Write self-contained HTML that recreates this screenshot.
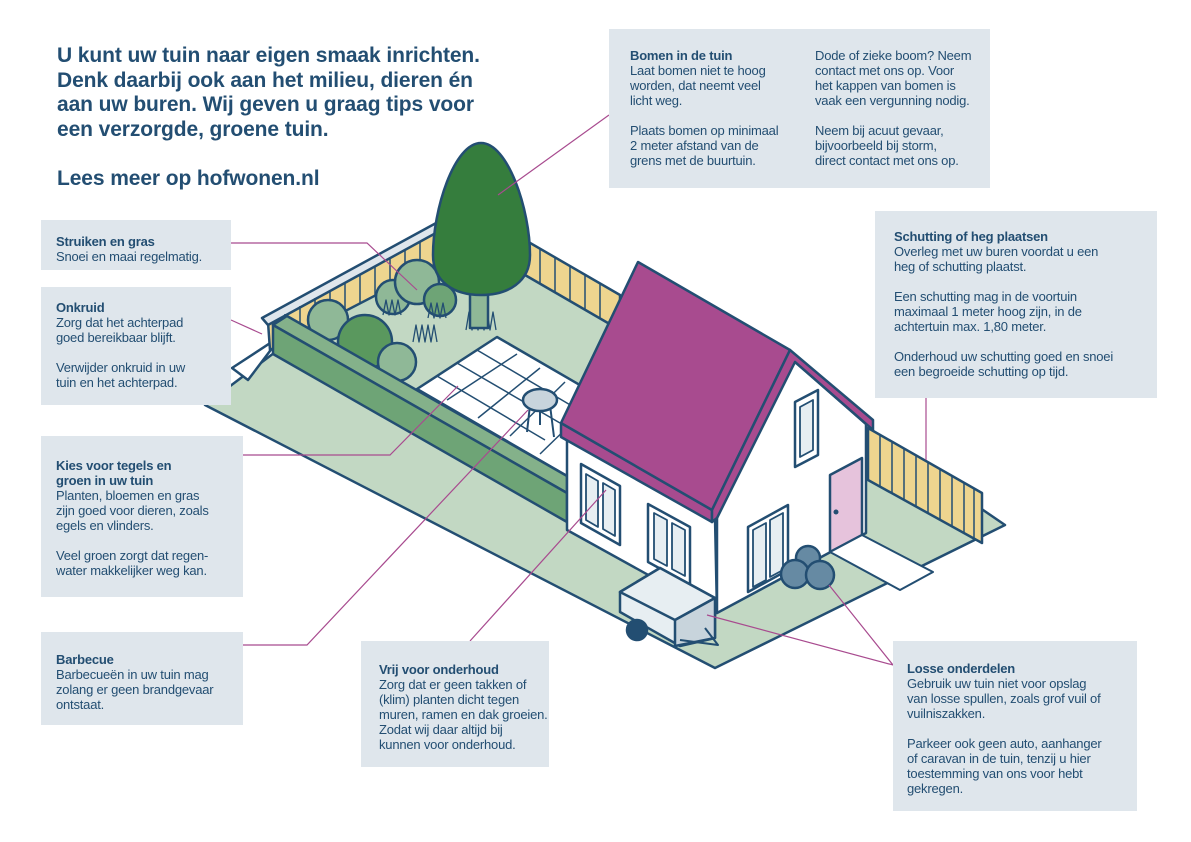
<!DOCTYPE html>
<html><head><meta charset="utf-8"><style>
body{margin:0;width:1191px;height:842px;background:#fff;position:relative;overflow:hidden;font-family:"Liberation Sans",sans-serif;color:#234e72}
svg{position:absolute;left:0;top:0}
.b{position:absolute;background:#dfe6ec;font-size:13px;line-height:15px;letter-spacing:-0.2px;box-sizing:border-box;white-space:nowrap}
.b b{font-weight:bold}
.t{position:absolute;left:57px;top:44px;font-size:21px;font-weight:bold;line-height:24.6px;letter-spacing:-0.1px;color:#234e72;white-space:nowrap}
</style></head><body>
<svg width="1191" height="842" viewBox="0 0 1191 842">
<g stroke="#234e72" stroke-width="2.5" stroke-linejoin="round">
<polygon points="205,405 440,228 620,298 866,430 1005,525 715,668" fill="#c2d8c3"/>
<polygon points="232,368 440,232 446,240 273,347 248,380" fill="#fff"/>
<polygon points="268,322 440,228 440,262 270,350" fill="#eed58f"/>
<polygon points="262,318 438,222 445,228 268,325" fill="#dfe6ec"/>
<g stroke-width="1.5">
<line x1="285" y1="314" x2="285" y2="343"/><line x1="300" y1="306" x2="300" y2="335"/><line x1="315" y1="298" x2="315" y2="327"/><line x1="330" y1="290" x2="330" y2="319"/><line x1="345" y1="282" x2="345" y2="311"/><line x1="360" y1="274" x2="360" y2="303"/><line x1="375" y1="266" x2="375" y2="295"/><line x1="390" y1="258" x2="390" y2="287"/><line x1="405" y1="250" x2="405" y2="279"/><line x1="420" y1="242" x2="420" y2="271"/>
</g>
<polygon points="525,240 620,295 620,330 525,275" fill="#eed58f"/>
<g stroke-width="1.5">
<line x1="540" y1="249" x2="540" y2="284"/><line x1="555" y1="258" x2="555" y2="293"/><line x1="570" y1="266" x2="570" y2="301"/><line x1="585" y1="275" x2="585" y2="310"/><line x1="600" y1="284" x2="600" y2="319"/>
</g>
<polygon points="417,389 497,337 585,388 567,476" fill="#fff"/>
<g stroke-width="1.5">
<line x1="437" y1="376" x2="545" y2="440"/><line x1="457" y1="363" x2="560" y2="423"/><line x1="477" y1="350" x2="572" y2="406"/>
<line x1="447" y1="400" x2="517" y2="354"/><line x1="478" y1="418" x2="540" y2="368"/><line x1="510" y1="436" x2="565" y2="382"/><line x1="540" y1="454" x2="575" y2="420"/>
</g>
<circle cx="328" cy="320" r="20" fill="#8fb897"/>
<circle cx="365" cy="342" r="27" fill="#5a985e"/>
<circle cx="397" cy="362" r="19" fill="#8fb897"/>
<circle cx="393" cy="297" r="17" fill="#8fb897"/>
<circle cx="417" cy="282" r="22" fill="#8fb897"/>
<circle cx="440" cy="300" r="16" fill="#6ea476"/>
<g stroke-width="1.3" fill="none">
<polyline points="383,315 386,300 389,315 392,300 395,315 398,300 401,315"/>
<polyline points="428,318 431,303 434,318 437,303 440,318 443,303 446,318"/>
<polyline points="413,342 416,325 419,342 422,325 425,342 428,325 431,342 434,325 437,342"/>
<polyline points="466,330 469,312 472,330 475,312 478,330 481,312 484,330 487,312 490,330 493,312 496,330"/>
</g>
<rect x="470" y="290" width="18" height="38" fill="#8fb897"/>
<path d="M481,143 C508,143 530,210 530,255 C530,282 508,295 481,295 C454,295 433,282 433,255 C433,210 454,143 481,143Z" fill="#357d3d"/>
<polygon points="273,325 287,316 567,476 567,493" fill="#84b18a"/>
<polygon points="273,325 567,493 567,522 273,354" fill="#6ea476"/>
<g stroke-width="2"><line x1="530" y1="405" x2="527" y2="432"/><line x1="550" y1="405" x2="554" y2="437"/><line x1="540" y1="408" x2="540" y2="425"/></g>
<ellipse cx="540" cy="400" rx="17" ry="11" fill="#c8d4dc"/>
<polygon points="567,437 715,518 717,613 567,530" fill="#fff"/>
<polygon points="717,518 793,360 866,424 866,533 717,613" fill="#fff"/>
<polygon points="581,464 620,486 620,545 581,523" fill="#fff"/>
<polygon points="586,474 598,481 598,527 586,520" fill="#e7eef2" stroke-width="1.8"/>
<polygon points="603,483 615,490 615,536 603,529" fill="#e7eef2" stroke-width="1.8"/>
<polygon points="648,504 690,527 690,585 648,562" fill="#fff"/>
<polygon points="654,513 667,520 667,566 654,559" fill="#e7eef2" stroke-width="1.8"/>
<polygon points="672,523 685,530 685,576 672,569" fill="#e7eef2" stroke-width="1.8"/>
<polygon points="795,402 818,390 818,455 795,467" fill="#fff"/>
<polygon points="800,407 813,400 813,450 800,457" fill="#e7eef2" stroke-width="1.8"/>
<polygon points="748,527 788,505 788,570 748,592" fill="#fff"/>
<polygon points="753,530 766,523 766,580 753,587" fill="#e7eef2" stroke-width="1.8"/>
<polygon points="770,520 783,513 783,570 770,577" fill="#e7eef2" stroke-width="1.8"/>
<polygon points="830,475 862,458 862,535 830,552" fill="#e6c3dc"/>
<circle cx="836" cy="512" r="2.5" fill="#234e72" stroke="none"/>
<polygon points="561,423 712,510 712,522 561,437" fill="#a84b8f"/>
<polygon points="638,262 790,350 712,510 561,423" fill="#a84b8f"/>
<polygon points="790,350 873,420 873,430 795,362 717,518 712,522 712,510" fill="#a84b8f"/>
<polygon points="868,428 982,493 982,543 868,480" fill="#eed58f"/>
<g stroke-width="1.5">
<line x1="880" y1="435" x2="880" y2="487"/><line x1="892" y1="442" x2="892" y2="493"/><line x1="904" y1="449" x2="904" y2="500"/><line x1="916" y1="456" x2="916" y2="507"/><line x1="928" y1="462" x2="928" y2="513"/><line x1="940" y1="469" x2="940" y2="520"/><line x1="952" y1="476" x2="952" y2="527"/><line x1="964" y1="483" x2="964" y2="533"/><line x1="974" y1="488" x2="974" y2="539"/>
</g>
<polygon points="862,535 933,572 900,590 830,552" fill="#fff" stroke-width="2"/>
<circle cx="808" cy="558" r="12" fill="#668aa3"/>
<circle cx="795" cy="574" r="14" fill="#668aa3"/>
<circle cx="820" cy="575" r="14" fill="#668aa3"/>
<polygon points="620,592 660,568 715,598 715,638 680,646 620,612" fill="#e7eef2"/>
<polygon points="620,592 660,568 715,598 675,620" fill="#e7eef2"/>
<polygon points="675,620 715,598 715,638 675,646" fill="#c8d4dc"/>
<circle cx="637" cy="630" r="10" fill="#234e72"/>
<polyline points="680,640 718,645 705,628" fill="none" stroke-width="2"/>
</g>
<g stroke="#a84b8f" stroke-width="1.2" fill="none">
<polyline points="609,115 498,195"/>
<polyline points="231,243 367,243 417,290"/>
<polyline points="231,320 262,334"/>
<polyline points="243,455 390,455 458,386"/>
<polyline points="243,645 307,645 528,410"/>
<polyline points="470,641 606,490"/>
<polyline points="926,398 926,460"/>
<polyline points="707,615 893,665 829,585"/>
</g>
</svg>
<div class="t">U kunt uw tuin naar eigen smaak inrichten.<br>Denk daarbij ook aan het milieu, dieren én<br>aan uw buren. Wij geven u graag tips voor<br>een verzorgde, groene tuin.<br><br>Lees meer op hofwonen.nl</div>
<div class="b" style="left:609px;top:29px;width:381px;height:159px">
<div style="position:absolute;left:21px;top:19px"><b>Bomen in de tuin</b><br>Laat bomen niet te hoog<br>worden, dat neemt veel<br>licht weg.<br><br>Plaats bomen op minimaal<br>2 meter afstand van de<br>grens met de buurtuin.</div>
<div style="position:absolute;left:206px;top:19px">Dode of zieke boom? Neem<br>contact met ons op. Voor<br>het kappen van bomen is<br>vaak een vergunning nodig.<br><br>Neem bij acuut gevaar,<br>bijvoorbeeld bij storm,<br>direct contact met ons op.</div>
</div>
<div class="b" style="left:41px;top:220px;width:190px;height:50px;padding:14px 0 0 15px"><b>Struiken en gras</b><br>Snoei en maai regelmatig.</div>
<div class="b" style="left:41px;top:287px;width:190px;height:118px;padding:13px 0 0 15px"><b>Onkruid</b><br>Zorg dat het achterpad<br>goed bereikbaar blijft.<br><br>Verwijder onkruid in uw<br>tuin en het achterpad.</div>
<div class="b" style="left:41px;top:436px;width:202px;height:161px;padding:22px 0 0 15px"><b>Kies voor tegels en<br>groen in uw tuin</b><br>Planten, bloemen en gras<br>zijn goed voor dieren, zoals<br>egels en vlinders.<br><br>Veel groen zorgt dat regen-<br>water makkelijker weg kan.</div>
<div class="b" style="left:41px;top:632px;width:202px;height:93px;padding:20px 0 0 15px"><b>Barbecue</b><br>Barbecueën in uw tuin mag<br>zolang er geen brandgevaar<br>ontstaat.</div>
<div class="b" style="left:361px;top:641px;width:188px;height:126px;padding:21px 0 0 18px"><b>Vrij voor onderhoud</b><br>Zorg dat er geen takken of<br>(klim) planten dicht tegen<br>muren, ramen en dak groeien.<br>Zodat wij daar altijd bij<br>kunnen voor onderhoud.</div>
<div class="b" style="left:875px;top:211px;width:282px;height:187px;padding:18px 0 0 19px"><b>Schutting of heg plaatsen</b><br>Overleg met uw buren voordat u een<br>heg of schutting plaatst.<br><br>Een schutting mag in de voortuin<br>maximaal 1 meter hoog zijn, in de<br>achtertuin max. 1,80 meter.<br><br>Onderhoud uw schutting goed en snoei<br>een begroeide schutting op tijd.</div>
<div class="b" style="left:893px;top:641px;width:244px;height:170px;padding:20px 0 0 14px"><b>Losse onderdelen</b><br>Gebruik uw tuin niet voor opslag<br>van losse spullen, zoals grof vuil of<br>vuilniszakken.<br><br>Parkeer ook geen auto, aanhanger<br>of caravan in de tuin, tenzij u hier<br>toestemming van ons voor hebt<br>gekregen.</div>
</body></html>
